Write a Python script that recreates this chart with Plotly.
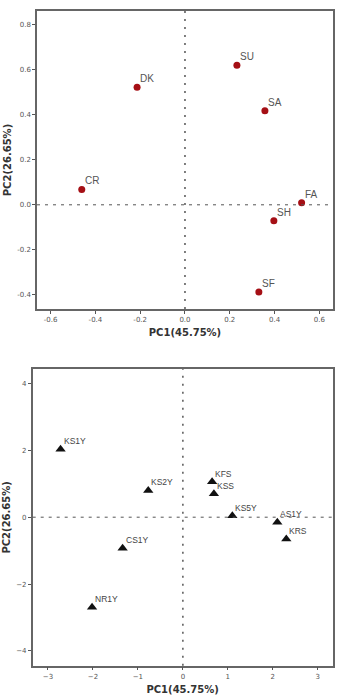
import plotly.graph_objects as go

# Top plot data
top_labels = ["DK", "SU", "SA", "CR", "FA", "SH", "SF"]
top_pc1 = [-0.214, 0.232, 0.357, -0.461, 0.521, 0.397, 0.330]
top_pc2 = [0.522, 0.620, 0.418, 0.068, 0.009, -0.071, -0.387]

# Bottom plot data
bot_labels = ["KS1Y", "KS2Y", "KFS", "KSS", "KS5Y", "AS1Y", "KRS", "CS1Y", "NR1Y"]
bot_pc1 = [-2.72, -0.77, 0.65, 0.69, 1.10, 2.10, 2.30, -1.34, -2.02]
bot_pc2 = [2.03, 0.80, 1.06, 0.70, 0.04, -0.15, -0.65, -0.93, -2.69]

top_xticks = [-0.6, -0.4, -0.2, 0.0, 0.2, 0.4, 0.6]
top_yticks = [-0.4, -0.2, 0.0, 0.2, 0.4, 0.6, 0.8]
bot_xticks = [-3, -2, -1, 0, 1, 2, 3]
bot_yticks = [-4, -2, 0, 2, 4]

xtitle = "PC1(45.75%)"
ytitle = "PC2(26.65%)"

fig = go.Figure()

fig.add_trace(go.Scatter(
    x=top_pc1, y=top_pc2, mode="markers",
    marker=dict(color="#a50f15", size=7, symbol="circle"),
    xaxis="x", yaxis="y", cliponaxis=False, showlegend=False))

fig.add_trace(go.Scatter(
    x=bot_pc1, y=bot_pc2, mode="markers",
    marker=dict(color="#111111", size=9, symbol="triangle-up"),
    xaxis="x2", yaxis="y2", cliponaxis=False, showlegend=False))

annotations = []
for lab, xv, yv in zip(top_labels, top_pc1, top_pc2):
    annotations.append(dict(x=xv, y=yv, xref="x", yref="y", text=lab, showarrow=False,
                            xanchor="left", yanchor="bottom", xshift=1, yshift=1,
                            font=dict(family="Liberation Sans", size=10, color="#555555")))
for lab, xv, yv in zip(bot_labels, bot_pc1, bot_pc2):
    annotations.append(dict(x=xv, y=yv, xref="x2", yref="y2", text=lab, showarrow=False,
                            xanchor="left", yanchor="bottom", xshift=1, yshift=1,
                            font=dict(family="Liberation Sans", size=8.5, color="#444444")))

axis_common = dict(
    showgrid=False, zeroline=False, showline=True, mirror=True,
    linecolor="#666666", linewidth=1.5, ticks="outside", ticklen=3,
    tickcolor="#555555", tickfont=dict(family="DejaVu Sans", size=7, color="#555555"),
)
title_font = dict(family="DejaVu Sans", size=10, color="#333333")

fig.update_layout(
    width=337, height=698, margin=dict(l=0, r=0, t=0, b=0),
    paper_bgcolor="white", plot_bgcolor="white",
    annotations=annotations,
    xaxis=dict(domain=[0.1098, 0.988], range=[-0.661, 0.661], tickvals=top_xticks,
               ticktext=[f"{v:.1f}" for v in top_xticks], anchor="y",
               title=dict(text="<b>" + xtitle + "</b>", font=title_font, standoff=6), **axis_common),
    yaxis=dict(domain=[0.5573, 0.9842], range=[-0.463, 0.861], tickvals=top_yticks,
               ticktext=[f"{v:.1f}" for v in top_yticks], anchor="x",
               title=dict(text="<b>" + ytitle + "</b>", font=title_font, standoff=4), **axis_common),
    xaxis2=dict(domain=[0.097, 0.987], range=[-3.34, 3.33], tickvals=bot_xticks, anchor="y2",
                title=dict(text="<b>" + xtitle + "</b>", font=title_font, standoff=6), **axis_common),
    yaxis2=dict(domain=[0.0463, 0.4713], range=[-4.44, 4.43], tickvals=bot_yticks, anchor="x2",
                title=dict(text="<b>" + ytitle + "</b>", font=title_font, standoff=4), **axis_common),
)

# reference lines at zero
for xr, yr in [("x", "y"), ("x2", "y2")]:
    fig.add_shape(type="line", xref=xr, yref=yr + " domain", x0=0, x1=0, y0=0, y1=1,
                  line=dict(color="#555555", width=1.5, dash="2px,6px"))
    fig.add_shape(type="line", xref=xr + " domain", yref=yr, x0=0, x1=1, y0=0, y1=0,
                  line=dict(color="#555555", width=1, dash="3px,5px"))

fig.write_html("out.html")
